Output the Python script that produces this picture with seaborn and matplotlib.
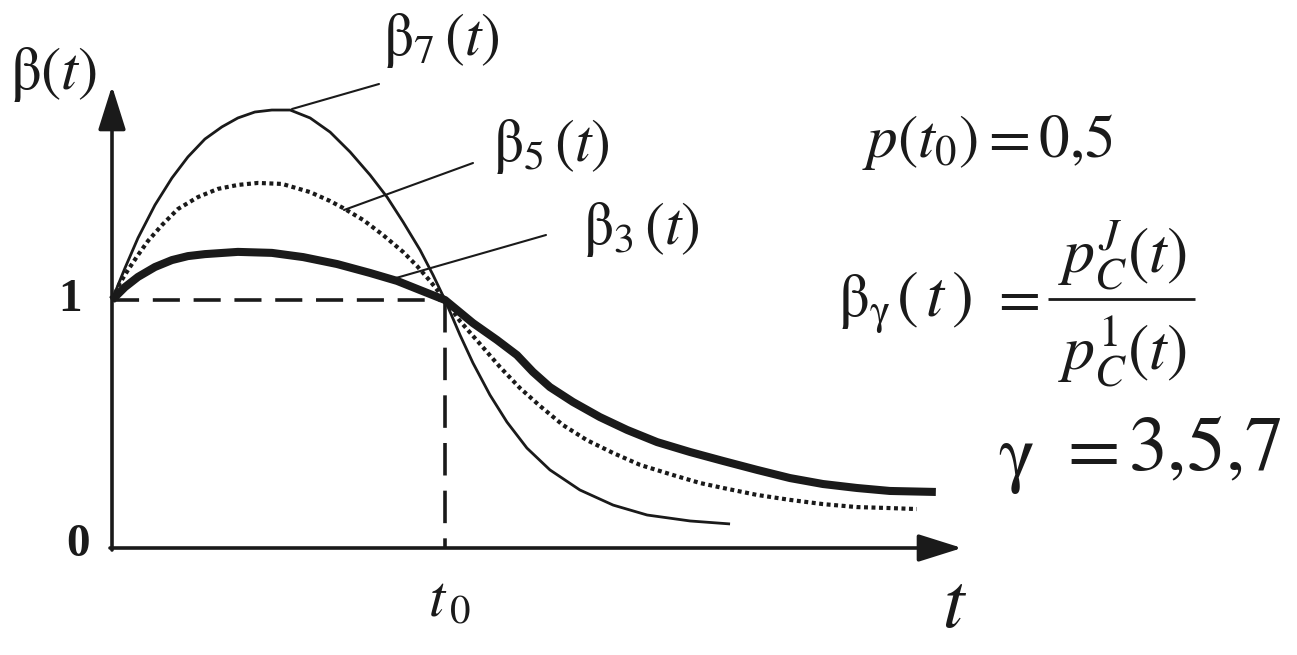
import matplotlib
matplotlib.use("Agg")
import matplotlib.pyplot as plt
import seaborn as sns

# ---------------- data (t0 = 1, beta(t0) = 1) ----------------
t7 = [0.0, 0.039, 0.078, 0.129, 0.180, 0.228, 0.279, 0.330, 0.378, 0.429, 0.480, 0.535,
      0.595, 0.655, 0.715, 0.775, 0.826, 0.874, 0.925, 0.964, 1.0, 1.045, 1.084, 1.135,
      1.186, 1.246, 1.315, 1.405, 1.505, 1.607, 1.736, 1.856]
b7 = [1.0, 1.129, 1.250, 1.383, 1.492, 1.577, 1.649, 1.698, 1.734, 1.758, 1.766, 1.766,
      1.734, 1.677, 1.597, 1.504, 1.415, 1.315, 1.202, 1.101, 1.0, 0.859, 0.746, 0.617,
      0.508, 0.403, 0.315, 0.234, 0.173, 0.133, 0.109, 0.097]

t5 = [0.0, 0.024, 0.048, 0.078, 0.108, 0.150, 0.198, 0.258, 0.318, 0.378, 0.438, 0.511,
      0.595, 0.655, 0.694, 0.754, 0.814, 0.874, 0.916, 0.955, 1.0, 1.045, 1.105, 1.165,
      1.225, 1.285, 1.354, 1.426, 1.505, 1.586, 1.685, 1.766, 1.835, 1.937, 2.036, 2.135,
      2.237, 2.336, 2.417]
b5 = [1.0, 1.069, 1.121, 1.181, 1.238, 1.302, 1.367, 1.415, 1.448, 1.464, 1.472, 1.468,
      1.435, 1.399, 1.371, 1.323, 1.262, 1.194, 1.137, 1.077, 1.0, 0.915, 0.823, 0.730,
      0.645, 0.573, 0.496, 0.435, 0.383, 0.335, 0.294, 0.262, 0.242, 0.214, 0.194, 0.177,
      0.165, 0.161, 0.157]

t3 = [0.0, 0.039, 0.078, 0.129, 0.180, 0.228, 0.279, 0.378, 0.480, 0.574, 0.676, 0.775,
      0.856, 0.925, 1.0, 1.084, 1.156, 1.216, 1.264, 1.315, 1.384, 1.465, 1.547, 1.637,
      1.736, 1.835, 1.937, 2.036, 2.135, 2.237, 2.336, 2.474]
b3 = [1.0, 1.052, 1.093, 1.133, 1.161, 1.177, 1.185, 1.194, 1.190, 1.173, 1.145, 1.109,
      1.077, 1.040, 1.0, 0.907, 0.839, 0.778, 0.710, 0.649, 0.589, 0.528, 0.476, 0.427,
      0.387, 0.351, 0.315, 0.282, 0.258, 0.242, 0.230, 0.226]

t_ref = [0.0, 1.0]          # 0 and t0
y_ticks = ["1", "0"]

# ---------------- styling ----------------
sns.set_theme(style="white")
plt.rcParams["font.family"] = ["Liberation Serif", "DejaVu Serif"]
plt.rcParams["mathtext.fontset"] = "stix"

W, H = 1297, 655
X0, Y0, SX, SY = 112, 548, 333, 248   # pixel origin and scale of the schematic


def P(px, py):
    return ((px - X0) / SX, (Y0 - py) / SY)


fig = plt.figure(figsize=(W / 100, H / 100), dpi=100)
ax = fig.add_axes([0, 0, 1, 1])
ax.set_xlim(P(0, 0)[0], P(W, 0)[0])
ax.set_ylim(P(0, H)[1], P(0, 0)[1])
ax.axis("off")

K = "#1a1a1a"

# curves
sns.lineplot(x=t3, y=b3, ax=ax, sort=False, estimator=None, color=K, lw=5.8,
             solid_capstyle="butt", solid_joinstyle="round", zorder=4)
sns.lineplot(x=t5, y=b5, ax=ax, sort=False, estimator=None, color=K, lw=3.0,
             linestyle=(0, (0.95, 0.85)), dash_capstyle="butt", zorder=3)
sns.lineplot(x=t7, y=b7, ax=ax, sort=False, estimator=None, color=K, lw=2.0,
             solid_capstyle="butt", solid_joinstyle="round", zorder=5)

# dashed reference lines
ax.plot([t_ref[0], t_ref[1]], [1, 1], color=K, lw=2.6, linestyle=(0, (7.5, 3.8)),
        dash_capstyle="butt", zorder=2)
ax.plot([t_ref[1], t_ref[1]], [1, 0], color=K, lw=2.6, linestyle=(0, (9, 4.2)),
        dash_capstyle="butt", zorder=2)

# axes with arrows
ax.annotate("", xy=P(112, 86), xytext=P(112, 550),
            arrowprops=dict(arrowstyle="-|>,head_length=27,head_width=8.5",
                            mutation_scale=1, lw=2.6, color=K, shrinkA=0, shrinkB=0))
ax.annotate("", xy=P(962, 548), xytext=P(110, 548),
            arrowprops=dict(arrowstyle="-|>,head_length=27,head_width=8.5",
                            mutation_scale=1, lw=2.6, color=K, shrinkA=0, shrinkB=0))

# leader lines
for (a, b) in [((292, 109), (379, 84)), ((344, 210), (473, 163)), ((396, 278), (546, 235))]:
    ax.plot([P(*a)[0], P(*b)[0]], [P(*a)[1], P(*b)[1]], color=K, lw=1.5, zorder=6)


def T(px, py, s, size, **kw):
    fig.text(px / W, 1 - py / H, s, fontsize=size, color=K, **kw)


T(10, 74, r"$\mathrm{\beta}(t)$", 44, ha="left", va="center")
T(383, 40, r"$\mathrm{\beta}_7\,(t)$", 43, ha="left", va="center")
T(493, 147, r"$\mathrm{\beta}_5\,(t)$", 43, ha="left", va="center")
T(583, 229, r"$\mathrm{\beta}_3\,(t)$", 43, ha="left", va="center")

T(82, 300, y_ticks[0], 34, ha="right", va="center", fontweight="bold")
T(90, 545, y_ticks[1], 34, ha="right", va="center", fontweight="bold")
T(428, 603, r"$t_{\,0}$", 42, ha="left", va="center")
T(955, 608, r"$t$", 56, ha="center", va="center")

T(862, 142, r"$p(t_0) = 0{,}5$", 44, ha="left", va="center")

# beta_gamma(t) = p_C^J(t) / p_C^1(t)
T(838, 305, r"$\mathrm{\beta}_{\mathrm{\gamma}}$", 44, ha="left", va="center")
T(934, 300, r"$(\,t\,)$", 47, ha="center", va="center")
T(1015, 300, r"$=$", 44, ha="center", va="center")
T(1122, 256, r"$p_C^J(t)$", 46, ha="center", va="center")
T(1122, 352, r"$p_C^1(t)$", 46, ha="center", va="center")
ax.plot([P(1048, 299)[0], P(1195, 299)[0]], [P(1048, 299)[1], P(1195, 299)[1]],
        color=K, lw=2.0, solid_capstyle="butt")

# gamma = 3,5,7
T(998, 462, r"$\mathrm{\gamma}$", 55, ha="left", va="center")
T(1087, 453, r"$=$", 55, ha="center", va="center")
T(1128, 452, r"$3{,}5{,}7$", 56, ha="left", va="center")

fig.savefig("out.png", dpi=100, facecolor="white")
